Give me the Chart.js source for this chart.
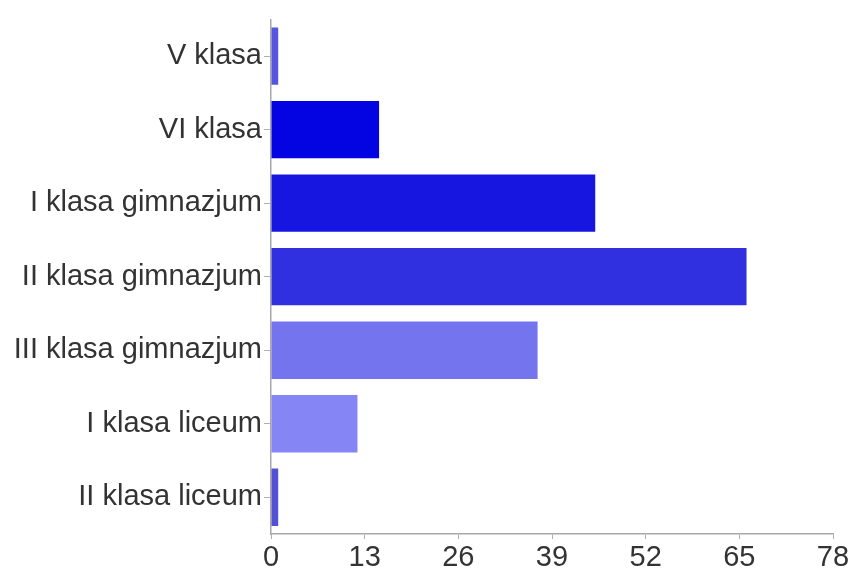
<!DOCTYPE html>
<html>
<head>
<meta charset="utf-8">
<script src="https://cdn.jsdelivr.net/npm/chart.js@4/dist/chart.umd.min.js"></script>
<style>
  html, body { margin: 0; padding: 0; background: #ffffff; }
  #wrap { width: 852px; height: 574px; }
</style>
</head>
<body>
<div id="wrap"><canvas id="c" width="852" height="574"></canvas></div>
<script>
const categories = ["V klasa", "VI klasa", "I klasa gimnazjum", "II klasa gimnazjum", "III klasa gimnazjum", "I klasa liceum", "II klasa liceum"];
const values = [1, 15, 45, 66, 37, 12, 1];
const barColors = ["#5555e0", "#0404e2", "#1616e0", "#3030e0", "#7474ee", "#8585f5", "#5252d6"];
const xTicks = [0, 13, 26, 39, 52, 65, 78];

new Chart(document.getElementById("c"), {
  type: "bar",
  data: {
    labels: categories,
    datasets: [{
      data: values,
      backgroundColor: barColors,
      borderWidth: 0,
      barPercentage: 0.78,
      categoryPercentage: 1.0
    }]
  },
  options: {
    indexAxis: "y",
    responsive: false,
    animation: false,
    devicePixelRatio: 1,
    layout: { padding: { top: 16, right: 19, left: 0, bottom: 0 } },
    plugins: { legend: { display: false }, tooltip: { enabled: false } },
    scales: {
      x: {
        min: 0, max: 78,
        afterBuildTicks: (s) => { s.ticks = xTicks.map(v => ({ value: v })); },
        afterFit: (s) => { s.height = 40; },
        border: { display: true, color: "#a8a8a8", width: 1.5 },
        grid: { drawOnChartArea: false, drawTicks: true, tickLength: 5, color: "#b0b0b0" },
        ticks: { color: "#333333", font: { family: "Liberation Sans, Arial, sans-serif", size: 29 }, padding: 2, maxRotation: 0, autoSkip: false }
      },
      y: {
        afterFit: (s) => { s.width = 271; },
        border: { display: true, color: "#a8a8a8", width: 1.5 },
        grid: { offset: false, drawOnChartArea: false, drawTicks: true, tickLength: 7, color: "#b0b0b0" },
        ticks: { color: "#333333", font: { family: "Liberation Sans, Arial, sans-serif", size: 29 }, padding: 2, autoSkip: false }
      }
    }
  }
});
</script>
</body>
</html>
